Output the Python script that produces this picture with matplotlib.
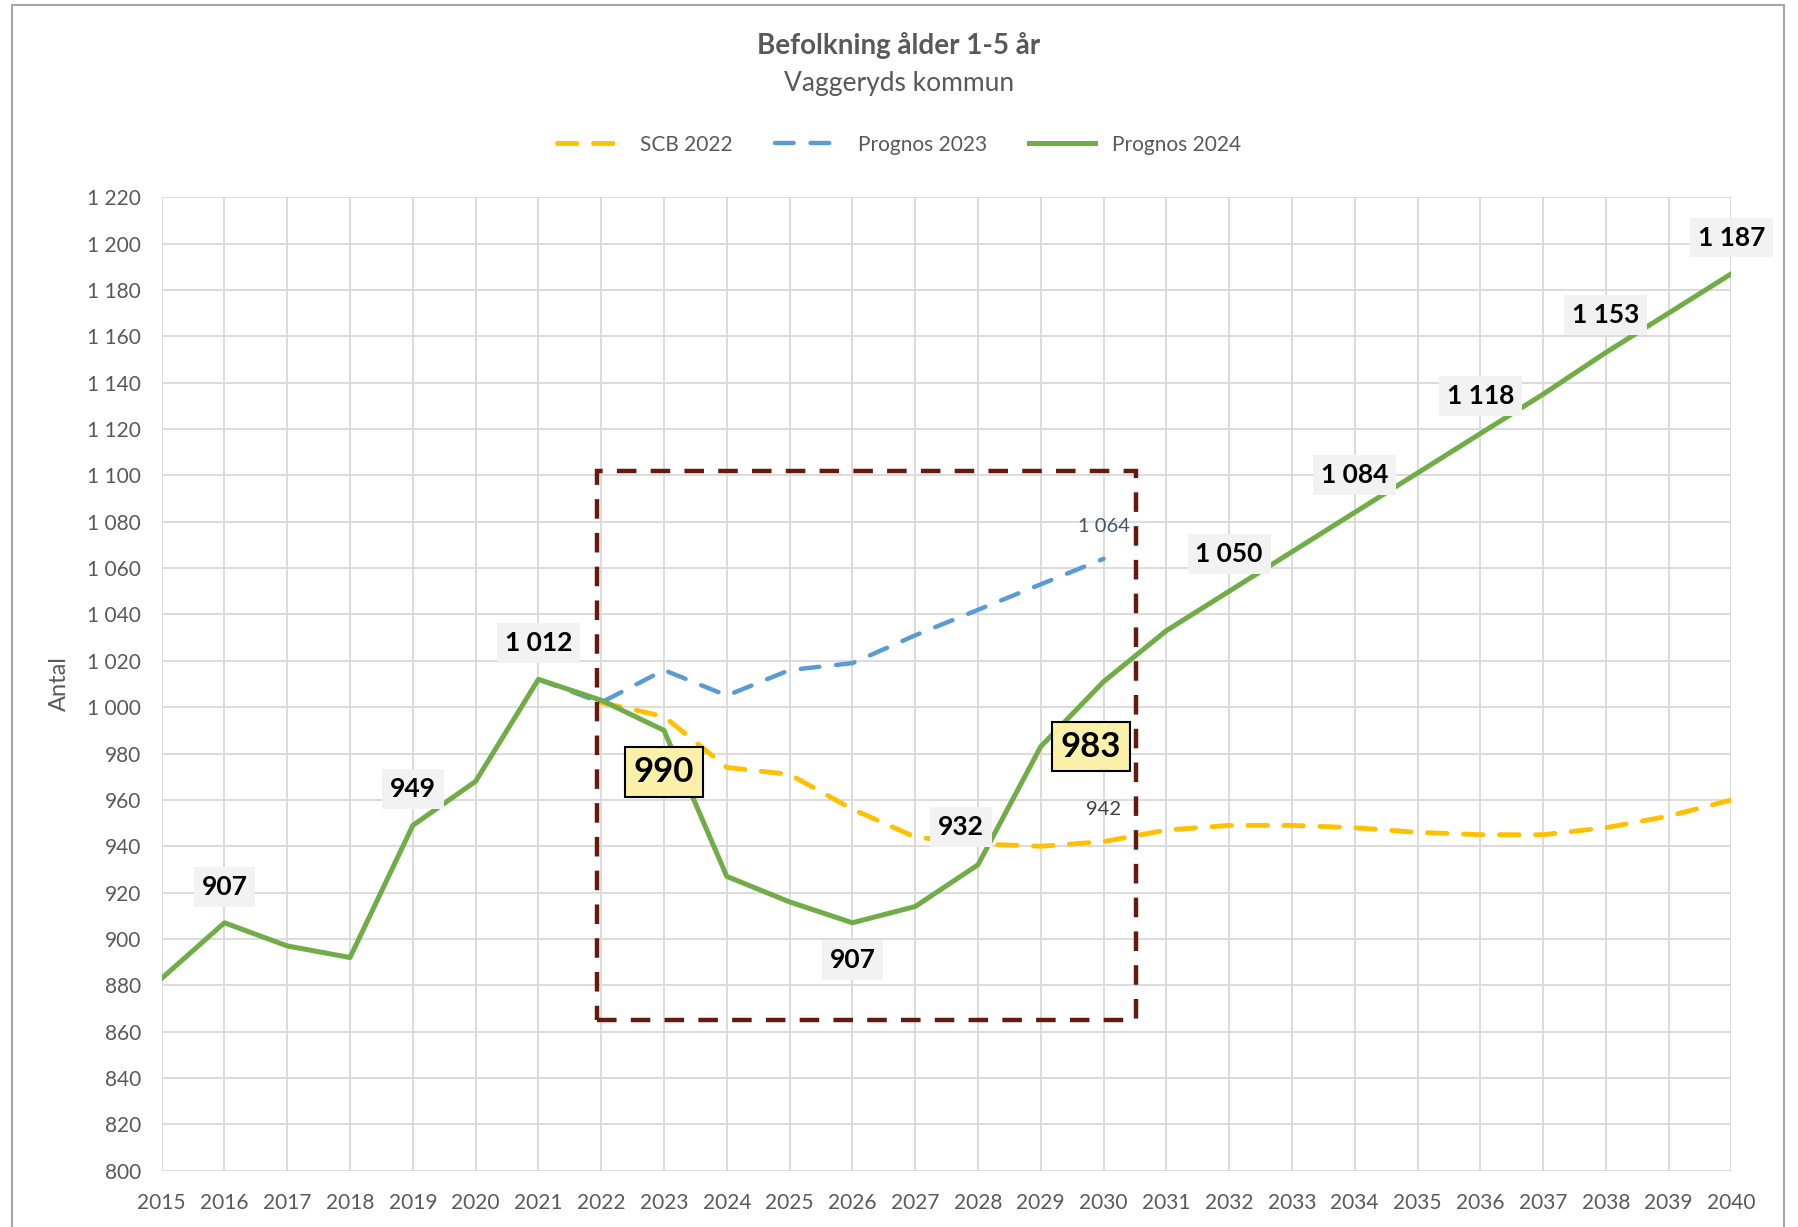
import numpy as np
import matplotlib.pyplot as plt
from matplotlib.patches import Rectangle
from matplotlib.ticker import FuncFormatter

plt.rcParams['font.family'] = ['Lato', 'DejaVu Sans']

# data
years = list(range(2015, 2041))
prognos_2024 = [883, 907, 897, 892, 949, 968, 1012, 1003, 990, 927, 916, 907, 914,
                932, 983, 1011, 1033, 1050, 1067, 1084, 1101, 1118, 1135, 1153, 1170, 1187]
years_2023 = list(range(2021, 2031))
prognos_2023 = [1012, 1002, 1016, 1005, 1016, 1019, 1031, 1042, 1053, 1064]
years_scb = list(range(2022, 2041))
scb_2022 = [1002, 996, 974, 971, 956, 944, 941, 940, 942, 947, 949, 949, 948,
            946, 945, 945, 948, 953, 960]

# labels shown on the green line: year -> offset in points
plain_labels = {2016: (0, 26), 2019: (0, 26), 2021: (0, 26), 2026: (0, -27),
                2028: (-12, 27), 2032: (0, 27), 2034: (0, 27), 2036: (0, 27),
                2038: (0, 27), 2040: (0, 26)}
boxed_labels = {2023: (0, -30), 2029: (36, 0)}

# highlighted period
box_x = (2021.94, 2030.52)
box_y = (865, 1102)

yellow = '#FFC000'
blue = '#5B9BD5'
green = '#70AD47'
grey_txt = '#595959'

fig = plt.figure(figsize=(17.98, 12.27), dpi=100)
ax = fig.add_axes([0.0899, 0.0458, 0.8731, 0.7935])

ax.plot(years_scb, scb_2022, color=yellow, lw=3.5, ls=(0, (4.0, 3.4)),
        dash_capstyle='round', label='SCB 2022', zorder=3)
ax.plot(years_2023, prognos_2023, color=blue, lw=3.2, ls=(0, (4.2, 3.8)),
        dash_capstyle='round', label='Prognos 2023', zorder=3)
ax.plot(years, prognos_2024, color=green, lw=3.6, label='Prognos 2024', zorder=4)

ax.add_patch(Rectangle((box_x[0], box_y[0]), box_x[1] - box_x[0], box_y[1] - box_y[0],
                       fill=False, ec='#641A0E', lw=3.2, ls=(0, (4.4, 3.2)), zorder=5))

for yr, off in plain_labels.items():
    v = prognos_2024[years.index(yr)]
    ax.annotate(f'{v:,}'.replace(',', ' '), (yr, v), xytext=off, textcoords='offset points',
                ha='center', va='center', fontsize=19, fontweight='bold', color='black',
                bbox=dict(boxstyle='square,pad=0.3', fc='#F2F2F2', ec='none'), zorder=6)

for yr, off in boxed_labels.items():
    v = prognos_2024[years.index(yr)]
    ax.annotate(f'{v}', (yr, v), xytext=off, textcoords='offset points',
                ha='center', va='center', fontsize=25, fontweight='bold', color='black',
                bbox=dict(boxstyle='square,pad=0.25', fc='#FAF0A8', ec='black', lw=1.5),
                zorder=6)

ax.annotate(f'{prognos_2023[-1]:,}'.replace(',', ' '), (years_2023[-1], prognos_2023[-1]),
            xytext=(0, 23), textcoords='offset points', ha='center', va='center',
            fontsize=14.5, color='#44546A', zorder=6)
ax.annotate(f'{scb_2022[years_scb.index(2030)]}', (2030, scb_2022[years_scb.index(2030)]),
            xytext=(0, 23), textcoords='offset points', ha='center', va='center',
            fontsize=14.5, color='#404040', zorder=6)

ax.set_xlim(2015, 2040)
ax.set_ylim(800, 1220)
ax.set_xticks(years)
ax.set_yticks(np.arange(800, 1221, 20))
ax.yaxis.set_major_formatter(FuncFormatter(lambda v, p: f'{int(v):,}'.replace(',', ' ')))
ax.grid(True, color='#D9D9D9', lw=1.3, zorder=0)
ax.set_axisbelow(True)
for s in ax.spines.values():
    s.set_visible(False)
ax.tick_params(length=0, labelsize=15, labelcolor=grey_txt)
ax.tick_params(axis='x', pad=16)
ax.tick_params(axis='y', pad=15)
ax.set_ylabel('Antal', fontsize=17, color=grey_txt, labelpad=12)

fig.text(0.5, 0.9626, 'Befolkning ålder 1-5 år', ha='center', va='center',
         fontsize=20, fontweight='bold', color=grey_txt)
fig.text(0.5, 0.9318, 'Vaggeryds kommun', ha='center', va='center',
         fontsize=19, color=grey_txt)
fig.legend(loc='center', bbox_to_anchor=(0.5, 0.882), ncol=3, frameon=False,
           fontsize=15, labelcolor=grey_txt, handlelength=3.2, columnspacing=2.0)

# chart border
fig.add_artist(Rectangle((0.0064, -0.01), 0.9856, 1.0063, transform=fig.transFigure,
                         fill=False, ec='#A6A6A6', lw=1.5))

fig.savefig('out.png', dpi=100)
